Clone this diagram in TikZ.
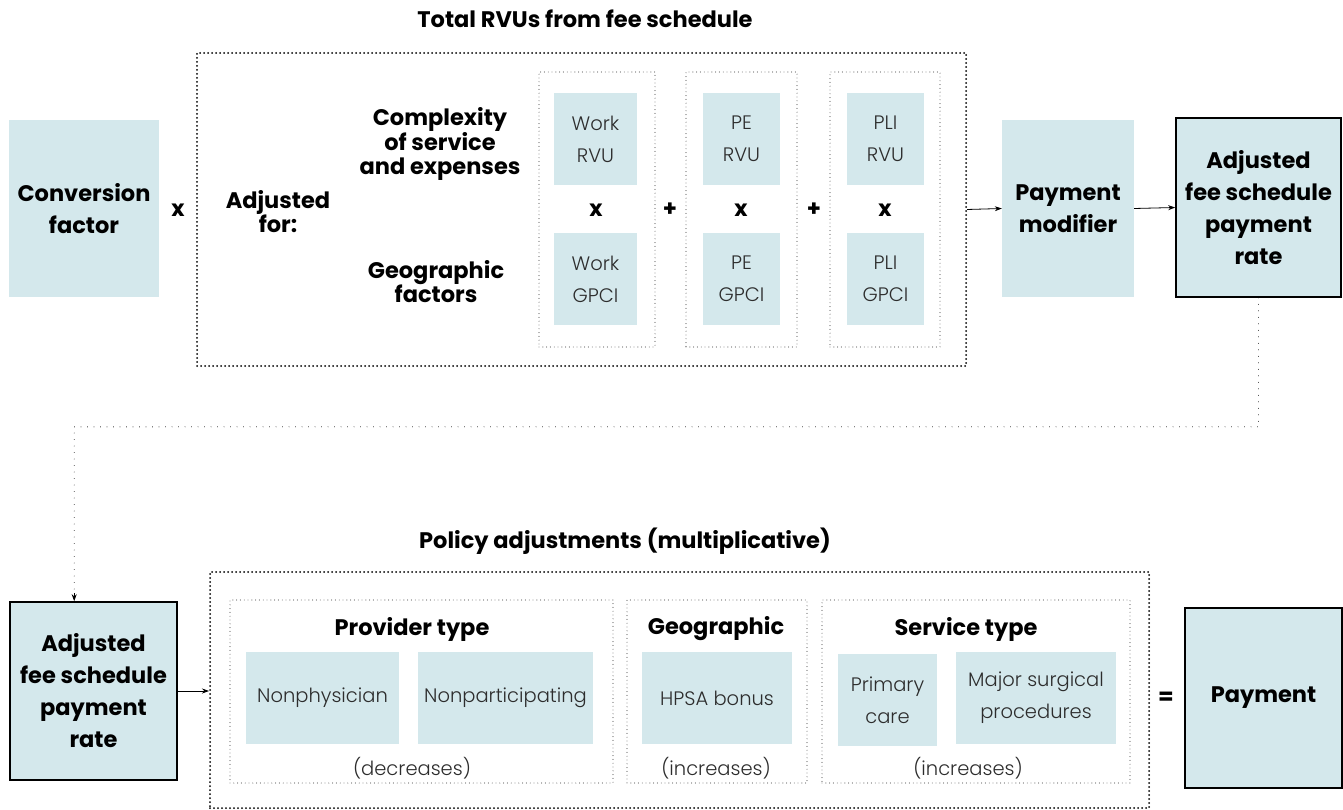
\documentclass[tikz,border=0pt]{standalone}
\usepackage{fontspec}
\setmainfont{Poppins}
\newfontfamily\thinfont{Poppins Light}
\usetikzlibrary{arrows.meta, positioning, calc}
\definecolor{boxfill}{RGB}{212, 232, 236}
\definecolor{softtext}{RGB}{45, 45, 45}

\tikzset{
  box/.style={fill=boxfill, inner sep=0pt, align=center},
  ratebox/.style={box, draw=black, line width=1.6pt},
  boldlbl/.style={font=\fontsize{22.5}{32}\selectfont\bfseries, align=center, inner sep=0pt},
  tightlbl/.style={font=\fontsize{22.5}{24}\selectfont\bfseries, align=center, inner sep=0pt},
  lightlbl/.style={font=\thinfont\fontsize{19.5}{32}\selectfont, text=softtext, align=center},
  outerdots/.style={draw, line width=2pt, line cap=round, dash pattern=on 0pt off 4pt, inner sep=0pt},
  innerdots/.style={draw, line width=0.9pt, line cap=round, dash pattern=on 0pt off 3.8pt, inner sep=0pt},
  linkdots/.style={line width=0.9pt, line cap=round, dash pattern=on 0pt off 6.5pt},
  arr/.style={-{Stealth[length=7pt, width=5pt]}, line width=0.8pt}
}

\begin{document}
\begin{tikzpicture}[x=1pt, y=-1pt]
\useasboundingbox (0,0) rectangle (1343,810);

% top part
\node[boldlbl] (rvutitle) at (585,19) {Total RVUs from fee schedule};
\node[outerdots, minimum width=769, minimum height=313] (rvuframe) at (581.5,209.5) {};

\node[box, boldlbl, minimum width=150, minimum height=177] (conv) at (84,208.5) {Conversion\\factor};
\node[boldlbl] (times0) at (178,210) {x};
\node[tightlbl] (adjfor) at (278,212) {Adjusted\\for:};
\node[tightlbl] (complex) at (440,144) {Complexity\\of service\\and expenses};
\node[tightlbl] (geofac) at (436,282) {Geographic\\factors};

\node[innerdots, minimum width=116, minimum height=275] (workgrp) at (597,209.5) {};
\node[innerdots, minimum width=111, minimum height=275] (pegrp) at (741.5,209.5) {};
\node[innerdots, minimum width=110, minimum height=275] (pligrp) at (885,209.5) {};

\node[box, lightlbl, minimum width=83, minimum height=92] (workrvu) at (595.5,139) {Work\\RVU};
\node[box, lightlbl, minimum width=83, minimum height=92] (workgpci) at (595.5,279) {Work\\GPCI};
\node[box, lightlbl, minimum width=77, minimum height=92] (pervu) at (741.5,139) {PE\\RVU};
\node[box, lightlbl, minimum width=77, minimum height=92] (pegpci) at (741.5,279) {PE\\GPCI};
\node[box, lightlbl, minimum width=77, minimum height=92] (plirvu) at (885.5,139) {PLI\\RVU};
\node[box, lightlbl, minimum width=77, minimum height=92] (pligpci) at (885.5,279) {PLI\\GPCI};

\node[boldlbl] (times1) at (596,210) {x};
\node[boldlbl] (times2) at (741,210) {x};
\node[boldlbl] (times3) at (885,210) {x};
\node[boldlbl] (plus1) at (670,210) {+};
\node[boldlbl] (plus2) at (814,210) {+};

\node[box, boldlbl, minimum width=132, minimum height=177] (paymod) at (1068,208.5) {Payment\\modifier};
\node[ratebox, boldlbl, minimum width=165, minimum height=179] (adjrate) at (1258.5,207.5) {Adjusted\\fee schedule\\payment\\rate};

\draw[arr] (rvuframe.east) -- (paymod.west);
\draw[arr] (paymod.east) -- (adjrate.west);

% bottom part
\node[boldlbl] (poltitle) at (625,541) {Policy adjustments (multiplicative)};
\node[outerdots, minimum width=939, minimum height=236] (polframe) at (679.5,690) {};

\node[ratebox, boldlbl, minimum width=167, minimum height=178] (adjrate2) at (93.5,691) {Adjusted\\fee schedule\\payment\\rate};
\coordinate (droppt) at ($(adjrate2.north west)+(65,0)$);

\node[innerdots, minimum width=383, minimum height=183] (provgrp) at (421.5,691.5) {};
\node[innerdots, minimum width=180, minimum height=183] (geogrp) at (717,691.5) {};
\node[innerdots, minimum width=308, minimum height=183] (servgrp) at (976,691.5) {};

\node[boldlbl] (provlbl) at (412,629) {Provider type};
\node[box, lightlbl, minimum width=153, minimum height=92] (nonphys) at (322.5,698) {Nonphysician};
\node[box, lightlbl, minimum width=175, minimum height=92] (nonpart) at (505.5,698) {Nonparticipating};
\node[lightlbl] (decr) at (412,768) {(decreases)};

\node[boldlbl] (geolbl) at (716,629) {Geographic};
\node[box, lightlbl, minimum width=150, minimum height=92] (hpsa) at (717,698) {HPSA bonus};
\node[lightlbl] (incr1) at (716,768) {(increases)};

\node[boldlbl] (servlbl) at (966,629) {Service type};
\node[box, lightlbl, minimum width=99, minimum height=92] (primary) at (887.5,700) {Primary\\care};
\node[box, lightlbl, minimum width=160, minimum height=92] (major) at (1036,698) {Major surgical\\procedures};
\node[lightlbl] (incr2) at (968,768) {(increases)};

\node[boldlbl] (equals) at (1166,698) {=};
\node[ratebox, boldlbl, minimum width=157, minimum height=180] (payment) at (1263.5,698) {Payment};

\draw[arr] (adjrate2.east) -- (adjrate2.east -| polframe.west);
\draw[linkdots] (adjrate.south) -- ++(0,129) -| (droppt);
\draw[arr] ($(droppt)+(0,-8)$) -- (droppt);
\end{tikzpicture}
\end{document}
